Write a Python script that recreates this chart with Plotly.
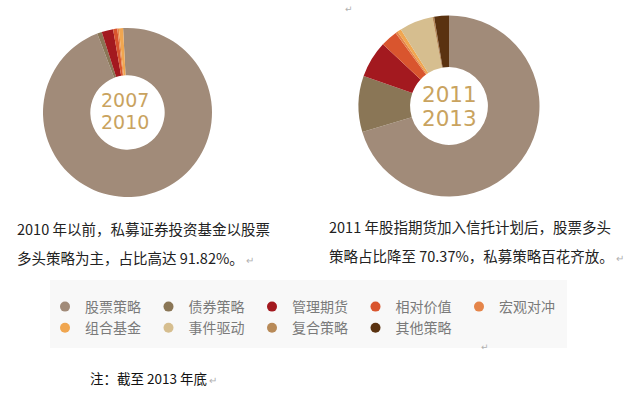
import plotly.graph_objects as go

# ---- data ----
strategies = ["股票策略", "债券策略", "管理期货", "相对价值", "宏观对冲",
              "组合基金", "事件驱动", "复合策略", "其他策略"]
colors = ["#a18b79", "#8a7656", "#a3191f", "#d9552e", "#e5854a",
          "#f0a650", "#d6be8f", "#b88a58", "#5a3210"]
share_2007_2010 = [95.0, 0.9, 2.2, 0.8, 0.3, 0.8, 0.0, 0.0, 0.0]
share_2011_2013 = [70.37, 10.0, 6.6, 3.0, 0.4, 0.7, 6.0, 0.3, 2.63]
period_left = ["2007", "2010"]
period_right = ["2011", "2013"]
text_left = ["2010 年以前，私募证券投资基金以股票",
             "多头策略为主，占比高达 91.82%。"]
text_right = ["2011 年股指期货加入信托计划后，股票多头",
              "策略占比降至 70.37%，私募策略百花齐放。"]
note = "注：截至 2013 年底"

W, H = 640, 395
MR = 90
PW = W - MR  # plot area width


def fx(px):
    return px / PW


def fy(py):
    return 1 - py / H


fig = go.Figure()

fig.add_trace(go.Pie(
    labels=strategies, values=share_2007_2010, sort=False,
    direction="clockwise", rotation=-3, hole=0.44,
    marker=dict(colors=colors, line=dict(width=0)),
    textinfo="none", hoverinfo="skip", showlegend=False,
    domain=dict(x=[fx(43), fx(212)], y=[fy(197), fy(28)]),
))
fig.add_trace(go.Pie(
    labels=strategies, values=share_2011_2013, sort=False,
    direction="clockwise", rotation=0, hole=0.43,
    marker=dict(colors=colors, line=dict(width=0)),
    textinfo="none", hoverinfo="skip", showlegend=False,
    domain=dict(x=[fx(358.5), fx(539.5)], y=[fy(196.5), fy(15.5)]),
))

# legend entries (circle markers)
for name, c in zip(strategies, colors):
    fig.add_trace(go.Scatter(
        x=[None], y=[None], mode="markers", name=name,
        marker=dict(symbol="circle", size=10, color=c),
        hoverinfo="skip",
    ))

gold = "#c9a35f"
cjk = "Noto Sans CJK SC"
num_font = "DejaVu Sans"
annos = []
# center labels
annos.append(dict(x=fx(125), y=fy(99.5), text=period_left[0], height=18,
                  font=dict(family=num_font, size=19, color=gold)))
annos.append(dict(x=fx(125), y=fy(122), text=period_left[1], height=18,
                  font=dict(family=num_font, size=19, color=gold)))
annos.append(dict(x=fx(449), y=fy(93.5), text=period_right[0], height=20,
                  font=dict(family=num_font, size=21.5, color=gold)))
annos.append(dict(x=fx(449), y=fy(118), text=period_right[1], height=20,
                  font=dict(family=num_font, size=21.5, color=gold)))

ret = "<span style='color:#b0b0b0;font-size:10px'> ↵</span>"
annos.append(dict(x=fx(15), y=fy(228), xanchor="left", text=text_left[0],
                  font=dict(family=cjk, size=14.5, color="#222")))
annos.append(dict(x=fx(15), y=fy(257), xanchor="left", text=text_left[1] + ret,
                  font=dict(family=cjk, size=14.5, color="#222")))
annos.append(dict(x=fx(327), y=fy(226), xanchor="left", text=text_right[0],
                  font=dict(family=cjk, size=14.5, color="#222")))
annos.append(dict(x=fx(327), y=fy(255), xanchor="left", text=text_right[1] + ret,
                  font=dict(family=cjk, size=14.5, color="#222")))
annos.append(dict(x=fx(88), y=fy(378), xanchor="left", text=note + ret,
                  font=dict(family=cjk, size=13.5, color="#111")))
annos.append(dict(x=fx(349), y=fy(9), text="↵",
                  font=dict(family="DejaVu Sans", size=9, color="#b0b0b0")))
annos.append(dict(x=fx(485), y=fy(347), text="↵",
                  font=dict(family="DejaVu Sans", size=9, color="#b0b0b0")))

for a in annos:
    a.update(xref="paper", yref="paper", showarrow=False, yanchor="middle")
    a.setdefault("xanchor", "center")

fig.update_layout(
    width=W, height=H, autosize=False,
    margin=dict(l=0, r=MR, t=0, b=0, pad=0, autoexpand=False),
    paper_bgcolor="white", plot_bgcolor="white",
    xaxis=dict(visible=False), yaxis=dict(visible=False),
    annotations=annos,
    shapes=[dict(type="rect", xref="paper", yref="paper", layer="below",
                 x0=fx(50), x1=fx(567), y0=fy(348), y1=fy(280),
                 fillcolor="#f8f8f8", line=dict(width=0))],
    legend=dict(orientation="h", x=fx(45), y=fy(291), xanchor="left", yanchor="top",
                entrywidth=58.5, entrywidthmode="pixels",
                bgcolor="rgba(0,0,0,0)", borderwidth=0,
                font=dict(family=cjk, size=14, color="#7a7a7a"),
                itemclick=False, itemdoubleclick=False),
)

fig.write_html("out.html", config={"displayModeBar": False},
               post_script="document.body.style.margin='0';document.body.style.padding='0';")
